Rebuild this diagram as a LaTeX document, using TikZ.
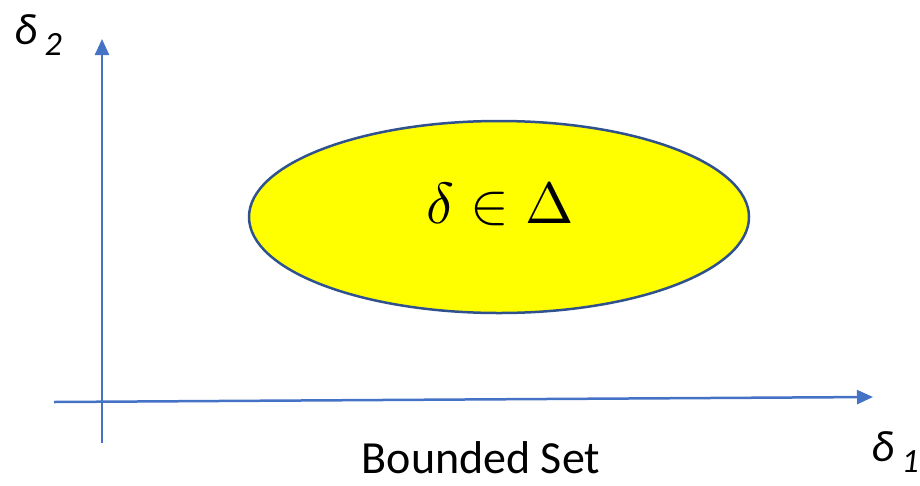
\documentclass[tikz,border=0pt]{standalone}
\usepackage{fontspec}
\setmainfont{Carlito}
\usetikzlibrary{arrows.meta,shapes.geometric}
\definecolor{axisblue}{HTML}{4472C4}
\definecolor{rimblue}{HTML}{2F528F}
\definecolor{setyellow}{HTML}{FFFF00}
\tikzset{
	axis/.style={line width=2.5pt,draw=axisblue,-{Triangle[length=16pt,width=14pt]}},
	axislabel/.style={font=\fontsize{44}{44}\selectfont\itshape,inner sep=0pt},
}
\begin{document}
\begin{tikzpicture}[x=1pt,y=-1pt]
		\useasboundingbox (0,0) rectangle (920,485);
		\coordinate (H0) at (54,402);
		\coordinate (H1) at (873,397);
		\coordinate (V0) at (102,443);
		\coordinate (V1) at (102,39);
		\draw [axis] (H0) to (H1);
		\draw [axis] (V0) to (V1);
		\node (set) [ellipse,draw=rimblue,line width=2.5pt,fill=setyellow,
			minimum width=500,minimum height=192,inner sep=0pt] at (499,217) {};
		\node (elem) at (500,204) {\scalebox{5.8}{$\delta\in\Delta$}};
		\node (d2) [axislabel,anchor=north west] at (14,14) {δ\,\raisebox{-11pt}{\fontsize{34}{34}\selectfont 2}};
		\node (d1) [axislabel,anchor=north west] at (871,431) {δ\,\raisebox{-11pt}{\fontsize{34}{34}\selectfont 1}};
		\node (caption) [inner sep=0pt,anchor=base] at (481,473) {\fontsize{46}{46}\selectfont Bounded Set};
	\end{tikzpicture}
\end{document}
